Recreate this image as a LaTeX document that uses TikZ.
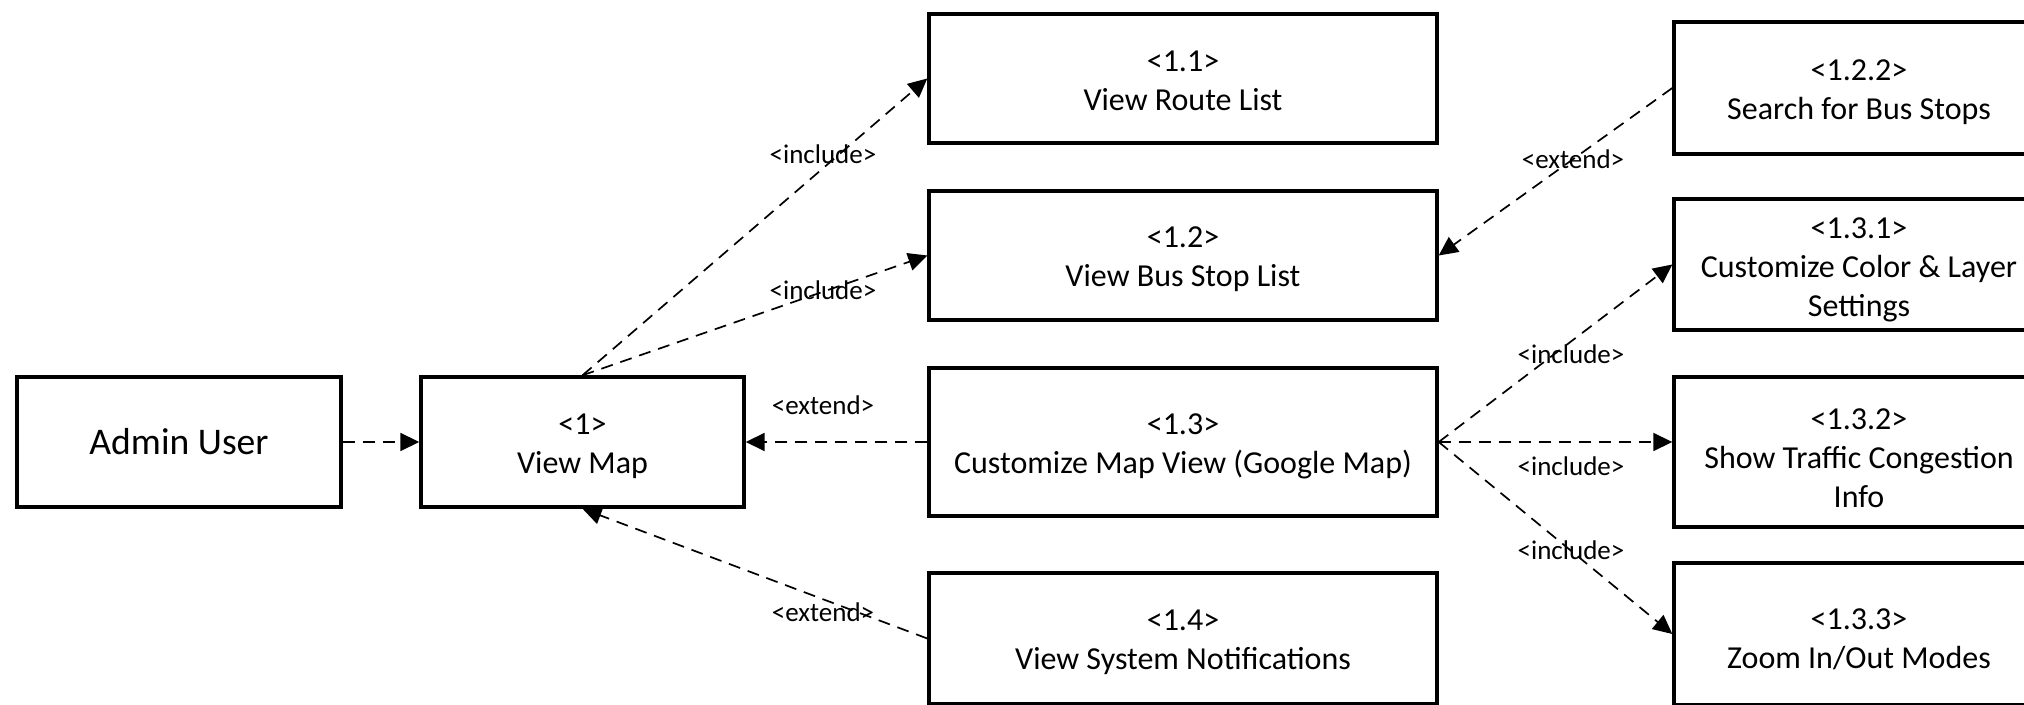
\documentclass[tikz,border=0pt]{standalone}
\usepackage{fontspec}
\setmainfont{Carlito}
\usetikzlibrary{arrows.meta}
\begin{document}
\begin{tikzpicture}[x=0.5pt,y=-0.5pt,
  ucbox/.style={draw=black,line width=1.7pt,rectangle,inner sep=0pt},
  uctext/.style={align=center,inner sep=0pt,font=\fontsize{16}{19.5}\selectfont},
  rel/.style={draw=black,line width=0.85pt,dash pattern=on 6pt off 4pt,
    -{Triangle[length=9.5pt,width=9pt]}},
  tag/.style={font=\fontsize{13.5}{15}\selectfont,inner sep=0pt}]
\useasboundingbox (0,0) rectangle (2024,705);
% actor and main use case
\node[ucbox,minimum width=162pt,minimum height=65pt,font=\fontsize{18.8}{22}\selectfont] (actor) at (179,442) {Admin User};
\node[ucbox,minimum width=161.5pt,minimum height=65pt] (map) at (582.5,442) {};
% second level use cases
\node[ucbox,minimum width=254pt,minimum height=64.5pt] (route) at (1183,78.5) {};
\node[ucbox,minimum width=254pt,minimum height=64.5pt] (stops) at (1183,255.5) {};
\node[ucbox,minimum width=254pt,minimum height=74pt] (custom) at (1183,442) {};
\node[ucbox,minimum width=254pt,minimum height=65.5pt] (notif) at (1183,638.5) {};
% third level use cases
\node[ucbox,minimum width=185pt,minimum height=66pt] (search) at (1859,88) {};
\node[ucbox,minimum width=185pt,minimum height=65.5pt] (color) at (1859,264.5) {};
\node[ucbox,minimum width=185pt,minimum height=75pt] (traffic) at (1859,452) {};
\node[ucbox,minimum width=185pt,minimum height=71pt] (zoom) at (1859,634) {};
% use case titles, set a little below each box centre
\node[uctext] (map-t) at ([yshift=-2pt]map.center) {<1>\\View Map};
\node[uctext] (route-t) at ([yshift=-1pt]route.center) {<1.1>\\View Route List};
\node[uctext] (stops-t) at ([yshift=-2pt]stops.center) {<1.2>\\View Bus Stop List};
\node[uctext] (custom-t) at ([yshift=-2pt]custom.center) {<1.3>\\Customize Map View (Google Map)};
\node[uctext] (notif-t) at ([yshift=-2pt]notif.center) {<1.4>\\View System Notifications};
\node[uctext] (search-t) at ([yshift=-2pt]search.center) {<1.2.2>\\Search for Bus Stops};
\node[uctext] (color-t) at ([yshift=-2.5pt]color.center) {<1.3.1>\\Customize Color \& Layer\\Settings};
\node[uctext] (traffic-t) at ([yshift=-3pt]traffic.center) {<1.3.2>\\Show Traffic Congestion\\Info};
\node[uctext] (zoom-t) at ([yshift=-2.5pt]zoom.center) {<1.3.3>\\Zoom In/Out Modes};
% relationships
\draw[rel] (actor.east) -- (map.west);
\draw[rel] (map.north) -- (route.west);
\draw[rel] (map.north) -- (stops.west);
\draw[rel] (custom.west) -- (map.east);
\draw[rel] (notif.west) -- (map.south);
\draw[rel] (search.west) -- (stops.east);
\draw[rel] (custom.east) -- (color.west);
\draw[rel] (custom.east) -- (custom.east -| traffic.west);
\draw[rel] (custom.east) -- (zoom.west);
% stereotype labels
\node[tag] (l1) at (823,154) {<include>};
\node[tag] (l2) at (823,290) {<include>};
\node[tag] (l3) at (823,405) {<extend>};
\node[tag] (l4) at (823,612) {<extend>};
\node[tag] (l5) at (1573,159) {<extend>};
\node[tag] (l6) at (1571,354) {<include>};
\node[tag] (l7) at (1571,466) {<include>};
\node[tag] (l8) at (1571,550) {<include>};
\end{tikzpicture}
\end{document}
